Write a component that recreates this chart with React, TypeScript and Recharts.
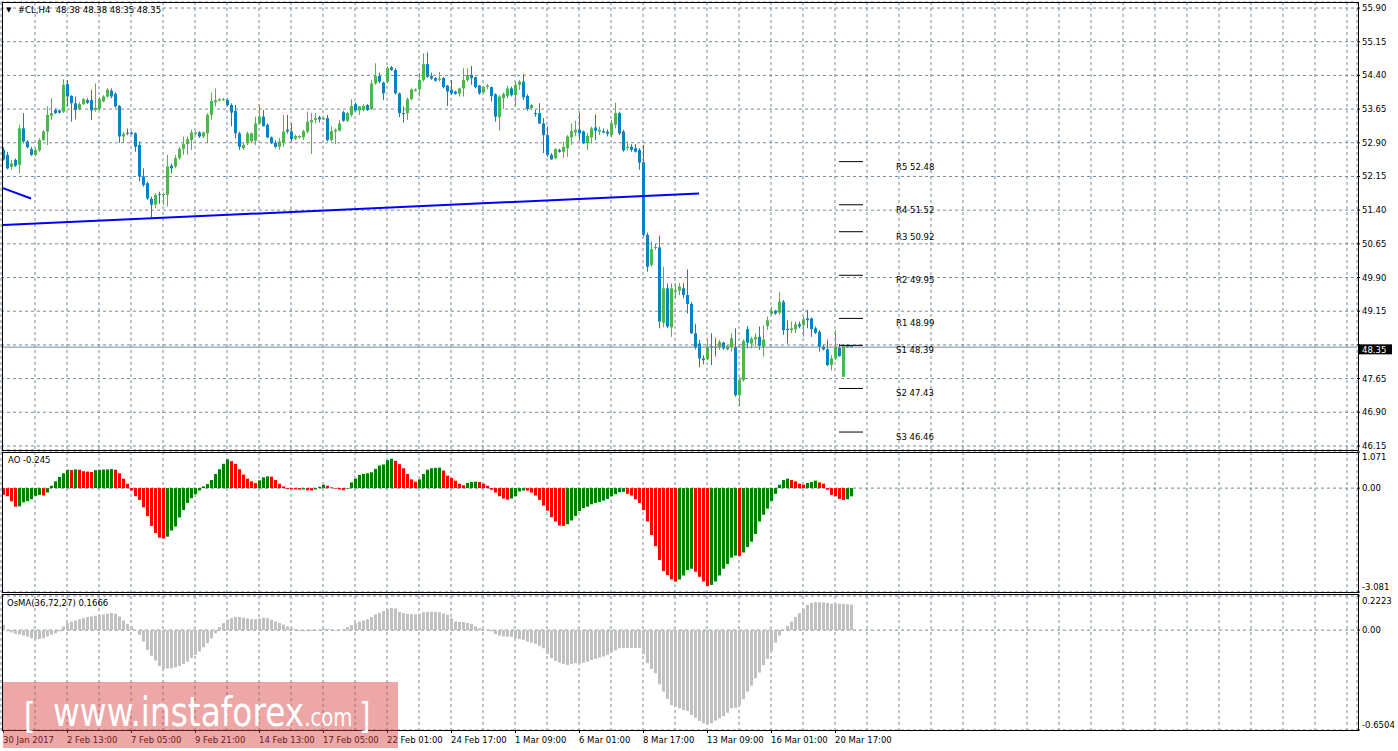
import React from 'react';
import { ComposedChart, Bar, XAxis, YAxis, CartesianGrid, ReferenceLine } from 'recharts';

const FONT = '"DejaVu Sans", Verdana, sans-serif';
const GRID = '#778899';
const BULL = '#4db848';
const BEAR = '#0a83c6';
const AO_UP = '#008000';
const AO_DOWN = '#ff0000';
const OSMA_COLOR = '#c0c0c0';
const SLOTS = 339;

const openPrices = [
  52.74, 52.63, 52.36, 52.52, 52.41, 53.22, 52.93, 52.76, 52.63, 52.73,
  52.96, 53.15, 53.50, 53.63, 53.62, 53.59, 54.21, 53.94, 53.78, 53.65,
  53.76, 53.85, 53.85, 53.63, 53.65, 53.82, 53.93, 54.06, 53.99, 53.72,
  53.04, 53.12, 53.13, 53.11, 52.85, 52.15, 52.00, 51.65, 51.52, 51.76,
  51.75, 51.74, 52.39, 52.37, 52.56, 52.76, 52.87, 52.96, 53.10, 53.13,
  53.04, 53.11, 53.52, 53.80, 53.84, 53.85, 53.85, 53.74, 53.61, 53.11,
  52.78, 52.89, 52.93, 52.95, 53.33, 53.48, 53.30, 53.02, 52.90, 52.81,
  52.89, 53.19, 53.15, 52.99, 53.02, 53.02, 53.15, 53.35, 53.41, 53.47,
  53.42, 53.45, 52.96, 53.15, 53.17, 53.58, 53.39, 53.52, 53.76, 53.62,
  53.63, 53.74, 53.65, 54.22, 54.39, 54.24, 54.26, 54.58, 54.52, 54.00,
  53.56, 53.56, 53.87, 54.06, 54.09, 54.30, 54.65, 54.39, 54.34, 54.30,
  54.34, 54.17, 54.08, 54.04, 53.99, 54.11, 54.30, 54.41, 54.36, 54.17,
  54.02, 54.14, 54.14, 53.98, 53.47, 53.89, 53.94, 54.11, 53.96, 54.19,
  54.26, 53.94, 53.67, 53.56, 53.56, 53.33, 53.07, 52.63, 52.56, 52.74,
  52.70, 52.78, 53.02, 53.13, 53.19, 53.15, 52.89, 53.02, 53.24, 53.15,
  53.16, 53.15, 53.07, 53.30, 53.56, 53.15, 52.78, 52.81, 52.78, 52.74,
  52.47, 50.85, 50.18, 50.56, 50.57, 48.89, 49.66, 48.79, 49.59, 49.61,
  49.66, 49.51, 49.31, 48.66, 48.43, 48.10, 48.08, 48.37, 48.36, 48.35,
  48.45, 48.30, 48.35, 48.35, 47.28, 47.62, 48.75, 48.43, 48.52, 48.58,
  48.36, 48.82, 49.09, 49.16, 49.12, 49.36, 48.76, 48.73, 48.75, 48.86,
  48.84, 48.99, 48.99, 48.77, 48.69, 48.36, 48.30, 47.95, 48.10, 48.34,
  47.69, 48.40, 48.38,
];

const highPrices = [
  52.80, 52.70, 52.52, 52.55, 53.30, 53.56, 52.96, 52.81, 52.78, 53.00,
  53.18, 53.71, 53.89, 53.66, 53.64, 54.31, 54.30, 53.96, 53.93, 53.80,
  53.90, 53.89, 54.08, 54.22, 53.92, 53.96, 54.12, 54.11, 54.03, 53.74,
  53.15, 53.22, 53.15, 53.13, 52.93, 52.33, 52.04, 51.70, 51.78, 51.81,
  51.79, 52.63, 52.44, 52.63, 52.81, 53.04, 53.04, 53.19, 53.16, 53.16,
  53.15, 53.56, 54.02, 54.11, 53.89, 53.90, 53.89, 53.78, 53.74, 53.15,
  52.89, 53.15, 53.13, 53.48, 53.74, 53.63, 53.33, 53.04, 52.96, 53.00,
  53.52, 53.52, 53.33, 53.08, 53.07, 53.19, 53.59, 53.56, 53.56, 53.50,
  53.48, 53.52, 53.26, 53.22, 53.41, 53.61, 53.59, 53.87, 53.80, 53.72,
  53.76, 53.76, 54.30, 54.67, 54.46, 54.26, 54.60, 54.61, 54.56, 54.02,
  53.71, 53.91, 54.11, 54.11, 54.45, 54.89, 54.91, 54.46, 54.36, 54.48,
  54.37, 54.19, 54.30, 54.06, 54.13, 54.56, 54.56, 54.61, 54.37, 54.19,
  54.16, 54.21, 54.15, 54.00, 53.97, 54.02, 54.17, 54.15, 54.26, 54.30,
  54.43, 53.98, 53.76, 53.63, 53.78, 53.45, 53.26, 52.67, 52.78, 52.77,
  52.93, 53.07, 53.33, 53.39, 53.56, 53.17, 53.11, 53.26, 53.53, 53.26,
  53.22, 53.20, 53.41, 53.79, 53.59, 53.19, 52.93, 52.87, 52.87, 52.78,
  52.85, 50.90, 50.70, 50.66, 50.83, 50.14, 49.77, 49.77, 49.78, 49.78,
  49.78, 50.08, 49.36, 48.87, 48.51, 48.17, 48.52, 48.66, 48.55, 48.51,
  48.47, 48.40, 48.66, 48.77, 47.69, 48.52, 48.82, 48.58, 48.66, 48.81,
  48.84, 49.03, 49.25, 49.18, 49.58, 49.40, 48.95, 48.92, 48.92, 48.92,
  49.03, 49.18, 49.01, 48.81, 48.73, 48.40, 48.52, 48.17, 48.73, 48.42,
  48.42, 48.42, 48.38,
];

const lowPrices = [
  52.50, 52.31, 52.30, 52.36, 52.22, 52.89, 52.78, 52.61, 52.60, 52.70,
  52.94, 52.85, 53.41, 53.54, 53.55, 53.56, 53.71, 53.37, 53.42, 53.62,
  53.74, 53.76, 53.41, 53.59, 53.62, 53.80, 53.90, 53.89, 53.68, 52.90,
  52.90, 53.07, 53.08, 52.70, 52.04, 51.92, 51.63, 51.24, 51.44, 51.54,
  51.52, 51.48, 52.22, 52.33, 52.52, 52.63, 52.63, 52.74, 53.08, 53.01,
  53.00, 52.89, 53.41, 53.71, 53.82, 53.83, 53.72, 53.27, 53.00, 52.74,
  52.74, 52.85, 52.89, 52.85, 53.30, 53.26, 53.00, 52.87, 52.78, 52.74,
  52.81, 53.11, 52.93, 52.96, 53.00, 52.96, 53.11, 52.65, 53.33, 53.35,
  53.40, 52.93, 52.93, 52.87, 53.15, 53.37, 53.36, 53.48, 53.59, 53.52,
  53.60, 53.61, 53.63, 54.19, 54.22, 53.85, 54.22, 54.50, 53.97, 53.47,
  53.35, 53.41, 53.85, 54.04, 53.93, 54.26, 54.34, 54.30, 54.26, 54.26,
  54.11, 53.72, 53.97, 53.97, 53.93, 53.93, 54.26, 54.19, 54.11, 53.97,
  54.00, 54.09, 53.82, 53.37, 53.17, 53.65, 53.89, 53.93, 53.71, 54.08,
  53.85, 53.61, 53.65, 53.48, 53.32, 52.67, 52.59, 52.52, 52.53, 52.68,
  52.56, 52.59, 52.85, 53.04, 52.96, 52.87, 52.74, 52.89, 52.96, 53.07,
  53.11, 53.04, 53.02, 53.22, 53.07, 52.70, 52.73, 52.70, 52.68, 52.30,
  50.81, 50.03, 50.14, 50.51, 48.77, 48.79, 48.77, 48.58, 49.44, 49.51,
  49.44, 49.10, 48.64, 48.30, 47.90, 47.97, 48.06, 47.95, 48.14, 48.29,
  48.29, 48.28, 48.25, 47.25, 47.04, 47.58, 48.32, 48.32, 48.36, 48.29,
  48.14, 48.73, 49.07, 49.07, 49.07, 48.62, 48.43, 48.66, 48.66, 48.77,
  48.58, 48.77, 48.58, 48.64, 48.25, 48.28, 47.93, 47.83, 48.06, 48.14,
  47.69, 48.33, 48.35,
];

const closePrices = [
  52.53, 52.33, 52.44, 52.39, 53.22, 52.93, 52.80, 52.63, 52.74, 52.96,
  53.15, 53.52, 53.56, 53.56, 53.57, 54.19, 53.93, 53.78, 53.63, 53.76,
  53.87, 53.79, 53.62, 53.68, 53.87, 53.93, 54.08, 53.93, 53.71, 53.04,
  53.10, 53.11, 53.10, 52.81, 52.15, 51.96, 51.66, 51.52, 51.74, 51.74,
  51.76, 52.37, 52.33, 52.56, 52.76, 52.87, 52.98, 53.13, 53.13, 53.04,
  53.13, 53.52, 53.83, 53.85, 53.87, 53.87, 53.74, 53.57, 53.11, 52.81,
  52.85, 53.11, 53.11, 53.33, 53.48, 53.27, 53.02, 52.89, 52.81, 52.93,
  53.15, 53.15, 52.98, 53.05, 53.05, 53.16, 53.37, 53.41, 53.45, 53.42,
  53.45, 52.96, 53.16, 53.19, 53.33, 53.39, 53.56, 53.72, 53.62, 53.71,
  53.72, 53.63, 54.22, 54.39, 54.26, 54.00, 54.56, 54.52, 54.00, 53.56,
  53.54, 53.87, 54.09, 54.09, 54.30, 54.65, 54.37, 54.33, 54.28, 54.33,
  54.14, 54.04, 54.00, 53.99, 54.11, 54.30, 54.41, 54.34, 54.14, 54.00,
  54.14, 54.17, 53.94, 53.48, 53.93, 53.99, 54.11, 53.96, 54.19, 54.26,
  53.91, 53.65, 53.74, 53.55, 53.33, 53.07, 52.63, 52.53, 52.76, 52.70,
  52.81, 53.04, 53.16, 53.19, 53.11, 52.89, 53.05, 53.22, 53.17, 53.19,
  53.13, 53.10, 53.33, 53.56, 53.11, 52.73, 52.81, 52.74, 52.70, 52.46,
  50.85, 50.14, 50.53, 50.58, 48.92, 49.66, 48.81, 49.66, 49.62, 49.70,
  49.51, 49.31, 48.66, 48.34, 48.10, 48.06, 48.35, 48.35, 48.34, 48.47,
  48.32, 48.38, 48.55, 47.28, 47.63, 48.49, 48.45, 48.54, 48.58, 48.38,
  48.52, 48.95, 49.16, 49.10, 49.36, 48.73, 48.73, 48.77, 48.86, 48.81,
  48.97, 48.95, 48.75, 48.67, 48.36, 48.30, 47.95, 48.10, 48.36, 48.15,
  48.40, 48.35, 48.35,
];

const aoValues = [
  -0.20, -0.24, -0.39, -0.55, -0.54, -0.42, -0.39, -0.33, -0.23, -0.20,
  -0.22, -0.13, 0.07, 0.20, 0.33, 0.44, 0.545, 0.535, 0.555, 0.545,
  0.50, 0.49, 0.48, 0.535, 0.545, 0.55, 0.555, 0.565, 0.545, 0.44,
  0.28, 0.13, -0.07, -0.24, -0.35, -0.57, -0.83, -1.12, -1.33, -1.47,
  -1.49, -1.44, -1.26, -1.14, -0.87, -0.65, -0.44, -0.30, -0.18, -0.07,
  0.05, 0.12, 0.24, 0.42, 0.56, 0.72, 0.85, 0.80, 0.72, 0.56,
  0.40, 0.28, 0.20, 0.15, 0.23, 0.32, 0.35, 0.34, 0.24, 0.13,
  0.05, -0.03, -0.035, -0.04, -0.045, -0.04, -0.065, -0.07, -0.04, 0.04,
  0.10, 0.07, 0.02, -0.02, -0.04, -0.06, -0.02, 0.17, 0.28, 0.39,
  0.42, 0.44, 0.47, 0.57, 0.67, 0.70, 0.83, 0.87, 0.81, 0.71,
  0.59, 0.42, 0.26, 0.19, 0.26, 0.42, 0.545, 0.59, 0.60, 0.61,
  0.52, 0.37, 0.30, 0.22, 0.13, 0.085, 0.15, 0.18, 0.19, 0.18,
  0.13, 0.07, -0.05, -0.13, -0.24, -0.31, -0.34, -0.31, -0.24, -0.10,
  -0.07, -0.075, -0.13, -0.22, -0.35, -0.52, -0.67, -0.86, -0.99, -1.11,
  -1.12, -1.07, -0.96, -0.83, -0.68, -0.59, -0.55, -0.48, -0.44, -0.41,
  -0.37, -0.32, -0.24, -0.18, -0.12, -0.11, -0.17, -0.22, -0.33, -0.44,
  -0.65, -0.99, -1.39, -1.72, -2.13, -2.46, -2.58, -2.71, -2.77, -2.71,
  -2.59, -2.43, -2.39, -2.48, -2.63, -2.77, -2.90, -2.87, -2.77, -2.59,
  -2.39, -2.25, -2.06, -2.00, -2.01, -1.91, -1.75, -1.59, -1.36, -0.99,
  -0.79, -0.61, -0.38, -0.17, 0.10, 0.24, 0.28, 0.24, 0.20, 0.13,
  0.10, 0.15, 0.18, 0.22, 0.17, 0.13, -0.05, -0.20, -0.24, -0.32,
  -0.35, -0.33, -0.245,
];

const osmaValues = [
  0.035, -0.008, -0.015, -0.024, -0.028, -0.035, -0.041, -0.053, -0.058, -0.058,
  -0.053, -0.041, -0.030, -0.020, -0.008, 0.024, 0.046, 0.056, 0.063, 0.071,
  0.078, 0.085, 0.089, 0.094, 0.098, 0.102, 0.106, 0.111, 0.106, 0.089,
  0.063, 0.041, 0.024, -0.002, -0.030, -0.074, -0.129, -0.167, -0.198, -0.233,
  -0.250, -0.250, -0.248, -0.242, -0.233, -0.220, -0.205, -0.182, -0.161, -0.139,
  -0.111, -0.085, -0.053, -0.020, 0.020, 0.046, 0.068, 0.078, 0.085, 0.085,
  0.081, 0.076, 0.071, 0.071, 0.076, 0.081, 0.078, 0.068, 0.056, 0.046,
  0.037, 0.024, 0.013, 0.007, -0.005, -0.007, -0.007, -0.005, -0.002, 0.005,
  0.007, 0.008, 0.005, -0.002, -0.002, 0.007, 0.020, 0.033, 0.046, 0.055,
  0.063, 0.071, 0.085, 0.102, 0.111, 0.124, 0.137, 0.144, 0.141, 0.119,
  0.111, 0.106, 0.104, 0.102, 0.106, 0.116, 0.119, 0.119, 0.118, 0.116,
  0.108, 0.100, 0.078, 0.056, 0.053, 0.053, 0.046, 0.041, 0.024, 0.013,
  0.005, -0.002, -0.008, -0.026, -0.035, -0.041, -0.043, -0.043, -0.053, -0.058,
  -0.063, -0.074, -0.081, -0.089, -0.102, -0.118, -0.154, -0.182, -0.200, -0.212,
  -0.220, -0.227, -0.220, -0.215, -0.215, -0.212, -0.205, -0.194, -0.187, -0.179,
  -0.172, -0.161, -0.146, -0.133, -0.118, -0.116, -0.116, -0.116, -0.116, -0.116,
  -0.157, -0.215, -0.253, -0.281, -0.353, -0.400, -0.448, -0.488, -0.498, -0.509,
  -0.520, -0.526, -0.553, -0.570, -0.592, -0.607, -0.611, -0.607, -0.589, -0.574,
  -0.559, -0.538, -0.509, -0.505, -0.488, -0.450, -0.400, -0.361, -0.313, -0.276,
  -0.228, -0.187, -0.135, -0.081, -0.035, 0.003, 0.028, 0.056, 0.085, 0.111,
  0.139, 0.165, 0.177, 0.182, 0.182, 0.180, 0.177, 0.172, 0.172, 0.172,
  0.170, 0.168, 0.1666,
];

const priceTicks = [55.9, 55.15, 54.4, 53.65, 52.9, 52.15, 51.4, 50.65, 49.9, 49.15, 48.4, 47.65, 46.9, 46.15];
const priceDomain = [46.06, 56.034];
const bidPrice = 48.35;

const aoTicks = [1.071, 0, -3.081];
const osmaTicks = [0.2223, 0, -0.6504];

const gridTicks = [8, 16, 24, 32, 40, 48, 56, 64, 72, 80, 88, 96, 104, 112, 120, 128, 136, 144, 152, 160,
  168, 176, 184, 192, 200, 208, 216, 224, 232, 240, 248, 256, 264, 272, 280, 288, 296, 304, 312, 320, 328, 336];

const timeTickIdx = [0, 16, 32, 48, 64, 80, 96, 112, 128, 144, 160, 176, 192, 208];
const timeTickText = ['30 Jan 2017', '2 Feb 13:00', '7 Feb 05:00', '9 Feb 21:00', '14 Feb 13:00', '17 Feb 05:00',
  '22 Feb 01:00', '24 Feb 17:00', '1 Mar 09:00', '6 Mar 01:00', '8 Mar 17:00', '13 Mar 09:00', '16 Mar 01:00', '20 Mar 17:00'];

const pivotLevels = [52.48, 51.52, 50.92, 49.95, 48.99, 48.39, 47.43, 46.46];
const pivotNames = ['R5 52.48', 'R4 51.52', 'R3 50.92', 'R2 49.95', 'R1 48.99', 'S1 48.39', 'S2 47.43', 'S3 46.46'];
const pivotStart = 209;
const pivotEnd = 215;

const trendLineA = [{ x: 0, y: 51.07 }, { x: 174, y: 51.77 }];
const trendLineB = [{ x: 0, y: 51.89 }, { x: 7, y: 51.66 }];

const data = Array.from({ length: SLOTS }, (_, i) =>
  i < openPrices.length
    ? {
        i,
        o: openPrices[i],
        h: highPrices[i],
        l: lowPrices[i],
        c: closePrices[i],
        ao: aoValues[i],
        aoUp: i > 0 && aoValues[i] > aoValues[i - 1],
        osma: osmaValues[i],
      }
    : { i }
);

const renderCandle = (props: any) => {
  const { x, y, width, height, payload } = props;
  if (!payload || payload.o == null || x == null) return <g />;
  const { o, h, l, c } = payload;
  const top = Math.min(y, y + height);
  const bottom = Math.max(y, y + height);
  const range = h - l;
  const py = (p: number) => (range === 0 ? top : top + ((h - p) / range) * (bottom - top));
  const up = c >= o;
  const color = up ? BULL : BEAR;
  const cx = Math.floor(x + width / 2) + 0.5;
  const bTop = py(Math.max(o, c));
  const bBot = py(Math.min(o, c));
  return (
    <g>
      <line x1={cx} x2={cx} y1={top} y2={Math.max(bottom, top + 1)} stroke={color} strokeWidth={1} />
      <rect x={cx - 1.5} y={bTop} width={3} height={Math.max(1, bBot - bTop)} fill={color} />
    </g>
  );
};

const makeHistShape = (colorOf: (p: any) => string) => (props: any) => {
  const { x, y, width, height, payload } = props;
  if (!payload || x == null || height == null) return <g />;
  const yy = Math.min(y, y + height);
  const hh = Math.abs(height);
  const cx = Math.floor(x + width / 2);
  return <rect x={cx - 1} y={yy} width={3} height={Math.max(hh, 0.5)} fill={colorOf(payload)} />;
};
const aoShape = makeHistShape((p) => (p.aoUp ? AO_UP : AO_DOWN));
const osmaShape = makeHistShape(() => OSMA_COLOR);

const renderBidLabel = (props: any) => {
  const vb = props.viewBox || {};
  const x = (vb.x || 0) + (vb.width || 0);
  const y = vb.y || 0;
  return (
    <g>
      <rect x={x + 2} y={y - 2.8} width={33} height={10} fill="#000" />
      <text x={x + 5} y={y + 5.6} fill="#fff" fontSize={8.5} fontFamily={FONT}>
        {bidPrice.toFixed(2)}
      </text>
    </g>
  );
};

const makePivotLabel = (text: string) => (props: any) => {
  const vb = props.viewBox || {};
  const x = (vb.x || 0) + (vb.width || 0);
  const y = vb.y || 0;
  return (
    <text x={x + 33} y={y + 8} fill="#000" fontSize={8.5} fontFamily={FONT}>
      {text}
    </text>
  );
};

const subTick = (fmt: (v: number) => string, max: number, min: number) => (props: any) => {
  const { x, y, payload } = props;
  const v = payload.value;
  let dy = 3.2;
  if (v === max) dy = 8;
  if (v === min) dy = -2.5;
  return (
    <text x={x} y={y + dy} fill="#000" fontSize={8.5} fontFamily={FONT} textAnchor="start">
      {fmt(v)}
    </text>
  );
};

const TimeTick = (props: any) => {
  const { x, y, payload } = props;
  const k = timeTickIdx.indexOf(payload.value);
  if (k < 0) return <g />;
  const xx = Math.floor(x) + 0.5;
  return (
    <g>
      <line x1={xx} x2={xx} y1={y} y2={y + 3} stroke="#000" />
      <text x={x} y={y + 12.6} fill="#000" fontSize={8.5} fontFamily={FONT} textAnchor="start">
        {timeTickText[k]}
      </text>
    </g>
  );
};

const tickStyle = { fill: '#000', fontSize: 8.5, fontFamily: FONT };

const frame = (top: number, height: number): React.CSSProperties => ({
  position: 'absolute',
  left: 2,
  top,
  width: 1357,
  height,
  border: '1px solid #000',
  boxSizing: 'border-box',
  pointerEvents: 'none',
});

const textStyle: React.CSSProperties = {
  position: 'absolute',
  fontFamily: FONT,
  fontSize: 8.5,
  lineHeight: '10px',
  color: '#000',
  whiteSpace: 'pre',
};

const WM_FONT = '"DejaVu Sans", sans-serif';

export default function App() {
  return (
    <div style={{ position: 'absolute', left: 0, top: 0, width: 1398, height: 751, background: '#fff', overflow: 'hidden' }}>
      {/* Main price panel */}
      <div style={{ position: 'absolute', left: 0, top: 0 }}>
        <ComposedChart width={1398} height={452} data={data} margin={{ top: 2, right: 0, bottom: 2, left: 1 }}>
          <CartesianGrid stroke={GRID} strokeDasharray="3 3" />
          <XAxis dataKey="i" type="category" hide ticks={gridTicks} interval={0} />
          <YAxis
            orientation="right"
            width={41}
            type="number"
            domain={priceDomain}
            allowDataOverflow
            ticks={priceTicks}
            interval={0}
            axisLine={false}
            tickLine={{ stroke: '#000' }}
            tickSize={3}
            tickMargin={2}
            tick={tickStyle}
            tickFormatter={(v: number) => (v === 48.4 ? '' : v.toFixed(2))}
          />
          <ReferenceLine y={bidPrice} stroke={GRID} strokeWidth={1} label={renderBidLabel} />
          <Bar
            dataKey={(d: any) => (d.o == null ? null : [d.l, d.h])}
            barSize={3}
            shape={renderCandle}
            isAnimationActive={false}
          />
          <ReferenceLine segment={trendLineA} stroke="#0000ff" strokeWidth={2} />
          <ReferenceLine segment={trendLineB} stroke="#0000ff" strokeWidth={2} />
          {pivotLevels.map((lv, k) => (
            <ReferenceLine
              key={pivotNames[k]}
              segment={[{ x: pivotStart, y: lv }, { x: pivotEnd, y: lv }]}
              stroke="#000"
              strokeWidth={1}
              label={makePivotLabel(pivotNames[k])}
            />
          ))}
        </ComposedChart>
      </div>

      {/* AO panel */}
      <div style={{ position: 'absolute', left: 0, top: 450 }}>
        <ComposedChart width={1398} height={144} data={data} margin={{ top: 2, right: 0, bottom: 2, left: 1 }}>
          <CartesianGrid stroke={GRID} strokeDasharray="3 3" />
          <XAxis dataKey="i" type="category" hide ticks={gridTicks} interval={0} />
          <YAxis
            orientation="right"
            width={41}
            type="number"
            domain={[-3.081, 1.071]}
            allowDataOverflow
            ticks={aoTicks}
            interval={0}
            axisLine={false}
            tickLine={{ stroke: '#000' }}
            tickSize={3}
            tickMargin={2}
            tick={subTick((v) => (v === 0 ? '0.00' : v.toFixed(3)), 1.071, -3.081)}
          />
          <Bar dataKey="ao" barSize={3} shape={aoShape} isAnimationActive={false} />
        </ComposedChart>
      </div>

      {/* OsMA panel */}
      <div style={{ position: 'absolute', left: 0, top: 594 }}>
        <ComposedChart width={1398} height={156} data={data} margin={{ top: 2, right: 0, bottom: 0, left: 1 }}>
          <CartesianGrid stroke={GRID} strokeDasharray="3 3" xAxisId="g" />
          <XAxis
            dataKey="i"
            type="category"
            ticks={timeTickIdx}
            interval={0}
            height={20}
            axisLine={false}
            tickLine={false}
            tickSize={0}
            tickMargin={0}
            tick={<TimeTick />}
          />
          <XAxis xAxisId="g" dataKey="i" type="category" hide ticks={gridTicks} interval={0} />
          <YAxis
            orientation="right"
            width={41}
            type="number"
            domain={[-0.6504, 0.2223]}
            allowDataOverflow
            ticks={osmaTicks}
            interval={0}
            axisLine={false}
            tickLine={{ stroke: '#000' }}
            tickSize={3}
            tickMargin={2}
            tick={subTick((v) => (v === 0 ? '0.00' : v.toFixed(4)), 0.2223, -0.6504)}
          />
          <Bar dataKey="osma" barSize={3} shape={osmaShape} isAnimationActive={false} />
        </ComposedChart>
      </div>

      {/* panel frames */}
      <div style={frame(2, 449)} />
      <div style={frame(452, 141)} />
      <div style={frame(594, 137)} />

      {/* panel captions */}
      <div style={{ ...textStyle, left: 6, top: 5, fontSize: 7 }}>▼</div>
      <div style={{ ...textStyle, left: 18, top: 5 }}>{'#CL,H4  48.38 48.38 48.35 48.35'}</div>
      <div style={{ ...textStyle, left: 8, top: 455 }}>{'AO -0.245'}</div>
      <div style={{ ...textStyle, left: 7, top: 598 }}>{'OsMA(36,72,27) 0.1666'}</div>

      {/* watermark */}
      <svg style={{ position: 'absolute', left: 3, top: 682 }} width={395} height={66}>
        <rect x={0} y={0} width={395} height={66} fill="rgba(214,60,60,0.45)" />
        <text transform="translate(21,46) scale(0.82,1)" fill="#fff" fontFamily={WM_FONT}>
          <tspan fontSize={36}>{'[  '}</tspan>
        </text>
        <text transform="translate(50,44) scale(0.82,1)" fill="#fff" fontFamily={WM_FONT}>
          <tspan fontSize={40}>www.instaforex</tspan>
          <tspan fontSize={24}>.com</tspan>
          <tspan fontSize={36} dx={8} dy={2}>]</tspan>
        </text>
      </svg>
    </div>
  );
}
